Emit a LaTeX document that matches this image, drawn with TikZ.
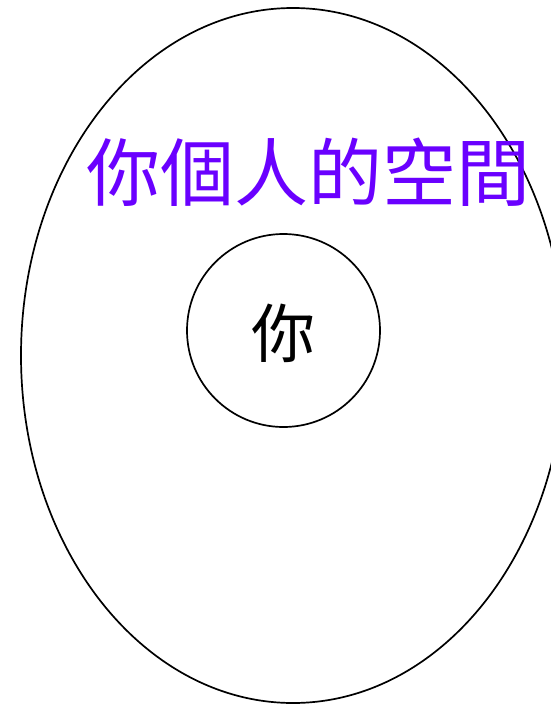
\documentclass[tikz,border=0pt]{standalone}
\usepackage{fontspec}
\usetikzlibrary{shapes.geometric}
\newfontfamily\cjk{Noto Sans CJK TC}
\definecolor{spacepurple}{HTML}{6A00FF}
\begin{document}
\begin{tikzpicture}[x=1pt,y=-1pt,
  outline/.style={draw=black,line width=1.7pt},
  label/.style={inner sep=0pt,font=\cjk}]
\useasboundingbox (0,0) rectangle (551,704);
\clip (0,0) rectangle (551,704);
\node[outline,ellipse,minimum width=544,minimum height=695,inner sep=0pt] (space) at (293,355.5) {};
\node[outline,circle,minimum size=193,inner sep=0pt] (you) at (283.5,330.5) {};
\node[label,font=\cjk\fontsize{64}{64}\selectfont] (youtext) at (283.5,333) {你};
\node[label,text=spacepurple,font=\cjk\fontsize{74}{74}\selectfont] (spacetext) at (308,172) {你個人的空間};
\end{tikzpicture}
\end{document}
